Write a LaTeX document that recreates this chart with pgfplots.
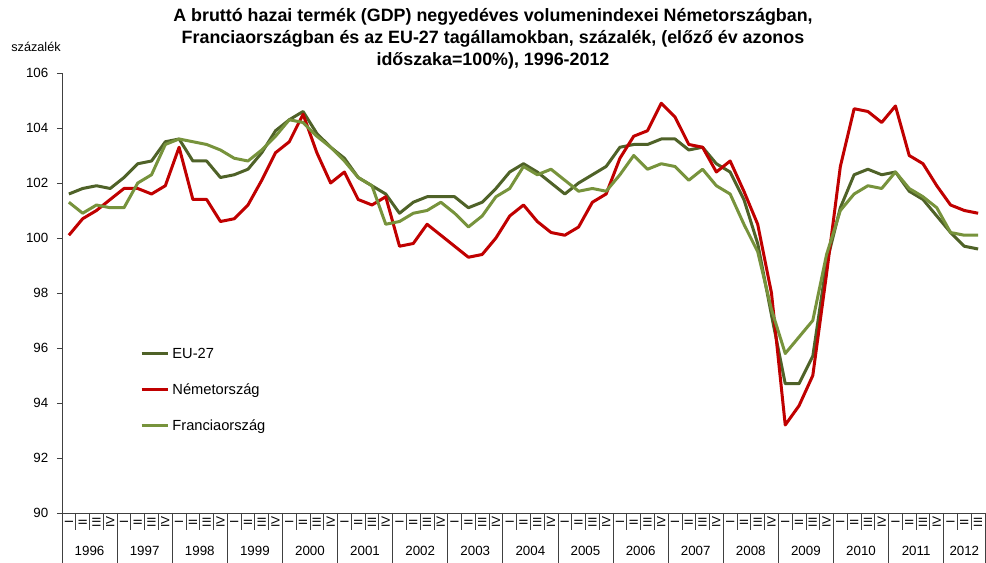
\documentclass[border=0pt]{standalone}
\usepackage{fontspec}
\setmainfont{Liberation Sans}
\usepackage{pgfplots}
\pgfplotsset{compat=1.18}
\usepackage{pgfplotstable}

\definecolor{eu}{HTML}{4F6228}
\definecolor{de}{HTML}{C00000}
\definecolor{fr}{HTML}{77933C}

\pgfplotstableread{
q eu de fr
0 101.6 100.1 101.3
1 101.8 100.7 100.9
2 101.9 101.0 101.2
3 101.8 101.4 101.1
4 102.2 101.8 101.1
5 102.7 101.8 102.0
6 102.8 101.6 102.3
7 103.5 101.9 103.4
8 103.6 103.3 103.6
9 102.8 101.4 103.5
10 102.8 101.4 103.4
11 102.2 100.6 103.2
12 102.3 100.7 102.9
13 102.5 101.2 102.8
14 103.1 102.1 103.2
15 103.9 103.1 103.7
16 104.3 103.5 104.3
17 104.6 104.5 104.2
18 103.8 103.1 103.7
19 103.3 102.0 103.3
20 102.9 102.4 102.8
21 102.2 101.4 102.2
22 101.9 101.2 101.9
23 101.6 101.5 100.5
24 100.9 99.7 100.6
25 101.3 99.8 100.9
26 101.5 100.5 101.0
27 101.5 100.1 101.3
28 101.5 99.7 100.9
29 101.1 99.3 100.4
30 101.3 99.4 100.8
31 101.8 100.0 101.5
32 102.4 100.8 101.8
33 102.7 101.2 102.6
34 102.4 100.6 102.3
35 102.0 100.2 102.5
36 101.6 100.1 102.1
37 102.0 100.4 101.7
38 102.3 101.3 101.8
39 102.6 101.6 101.7
40 103.3 102.9 102.3
41 103.4 103.7 103.0
42 103.4 103.9 102.5
43 103.6 104.9 102.7
44 103.6 104.4 102.6
45 103.2 103.4 102.1
46 103.3 103.3 102.5
47 102.7 102.4 101.9
48 102.4 102.8 101.6
49 101.4 101.7 100.5
50 99.8 100.5 99.5
51 97.2 98.0 97.4
52 94.7 93.2 95.8
53 94.7 93.9 96.4
54 95.7 95.0 97.0
55 99.1 98.7 99.4
56 101.1 102.6 101.0
57 102.3 104.7 101.6
58 102.5 104.6 101.9
59 102.3 104.2 101.8
60 102.4 104.8 102.4
61 101.7 103.0 101.8
62 101.4 102.7 101.5
63 100.8 101.9 101.1
64 100.2 101.2 100.2
65 99.7 101.0 100.1
66 99.6 100.9 100.1
}\data

\begin{document}
\begin{tikzpicture}
\begin{axis}[
  at={(0pt,0pt)}, anchor=south west,
  scale only axis, width=692.25pt, height=330pt,
  xmin=-0.5, xmax=66.5, ymin=90, ymax=106,
  axis lines=left, axis line style={-, black!75},
  xtick=\empty,
  ytick={90,92,...,106},
  tick align=outside, major tick length=3.75pt,
  tick style={black!75},
  yticklabel style={font=\fontsize{10}{12}\selectfont, xshift=-3pt},
  /pgf/number format/assume math mode=true,
  clip=false,
  legend style={at={(rel axis cs:0.08,0.388)}, anchor=north west, draw=none, fill=none,
    font=\fontsize{11}{13}\selectfont, row sep=13.5pt},
  legend cell align=left,
  legend image code/.code={\draw[#1, line width=2.25pt] (0pt,0pt) -- (20pt,0pt);},
  every axis plot/.append style={line width=2.25pt, line join=round},
]
\addplot[color=eu] table[x=q,y=eu]{\data};
\addlegendentry{EU-27}
\addplot[color=de] table[x=q,y=de]{\data};
\addlegendentry{Németország}
\addplot[color=fr] table[x=q,y=fr]{\data};
\addlegendentry{Franciaország}

% year separators
\pgfplotsinvokeforeach{-0.5,3.5,7.5,11.5,15.5,19.5,23.5,27.5,31.5,35.5,39.5,43.5,47.5,51.5,55.5,59.5,63.5,66.5}{
  \draw[black!75, line width=0.6pt] (axis cs:#1,90) -- ++(0pt,-37.5pt);
}
% quarter separators
\pgfplotsinvokeforeach{0.5,1.5,2.5,4.5,5.5,6.5,8.5,9.5,10.5,12.5,13.5,14.5,16.5,17.5,18.5,20.5,21.5,22.5,24.5,25.5,26.5,28.5,29.5,30.5,32.5,33.5,34.5,36.5,37.5,38.5,40.5,41.5,42.5,44.5,45.5,46.5,48.5,49.5,50.5,52.5,53.5,54.5,56.5,57.5,58.5,60.5,61.5,62.5,64.5,65.5}{
  \draw[black!75, line width=0.6pt] (axis cs:#1,90) -- ++(0pt,-12.75pt);
}
% quarter labels
\pgfplotsinvokeforeach{0,4,...,64}{
  \node[rotate=90, inner sep=0pt, font=\fontsize{9}{10}\selectfont] at ([yshift=-7pt]axis cs:#1,90) {I};
}
\pgfplotsinvokeforeach{1,5,...,65}{
  \node[rotate=90, inner sep=0pt, font=\fontsize{9}{10}\selectfont] at ([yshift=-7pt]axis cs:#1,90) {II};
}
\pgfplotsinvokeforeach{2,6,...,66}{
  \node[rotate=90, inner sep=0pt, font=\fontsize{9}{10}\selectfont] at ([yshift=-7pt]axis cs:#1,90) {III};
}
\pgfplotsinvokeforeach{3,7,...,63}{
  \node[rotate=90, inner sep=0pt, font=\fontsize{9}{10}\selectfont] at ([yshift=-7pt]axis cs:#1,90) {IV};
}
% year labels
\begin{scope}[every node/.style={font=\fontsize{10}{12}\selectfont}]
\node at ([yshift=-28.5pt]axis cs:1.5,90) {1996};
\node at ([yshift=-28.5pt]axis cs:5.5,90) {1997};
\node at ([yshift=-28.5pt]axis cs:9.5,90) {1998};
\node at ([yshift=-28.5pt]axis cs:13.5,90) {1999};
\node at ([yshift=-28.5pt]axis cs:17.5,90) {2000};
\node at ([yshift=-28.5pt]axis cs:21.5,90) {2001};
\node at ([yshift=-28.5pt]axis cs:25.5,90) {2002};
\node at ([yshift=-28.5pt]axis cs:29.5,90) {2003};
\node at ([yshift=-28.5pt]axis cs:33.5,90) {2004};
\node at ([yshift=-28.5pt]axis cs:37.5,90) {2005};
\node at ([yshift=-28.5pt]axis cs:41.5,90) {2006};
\node at ([yshift=-28.5pt]axis cs:45.5,90) {2007};
\node at ([yshift=-28.5pt]axis cs:49.5,90) {2008};
\node at ([yshift=-28.5pt]axis cs:53.5,90) {2009};
\node at ([yshift=-28.5pt]axis cs:57.5,90) {2010};
\node at ([yshift=-28.5pt]axis cs:61.5,90) {2011};
\node at ([yshift=-28.5pt]axis cs:65,90) {2012};
\end{scope}
\end{axis}
\node[align=center, font=\bfseries\fontsize{13.4}{16.5}\selectfont] at (323.25pt,355.5pt)
  {A bruttó hazai termék (GDP) negyedéves volumenindexei Németországban,\\
   Franciaországban és az EU-27 tagállamokban, százalék, (előző év azonos\\
   időszaka=100\%), 1996-2012};
\node[font=\fontsize{9.5}{11}\selectfont] at (-19.5pt,349.5pt) {százalék};
\pgfresetboundingbox
\path (-46.5pt,-37.5pt) rectangle (693pt,384.75pt);
\end{tikzpicture}
\end{document}
